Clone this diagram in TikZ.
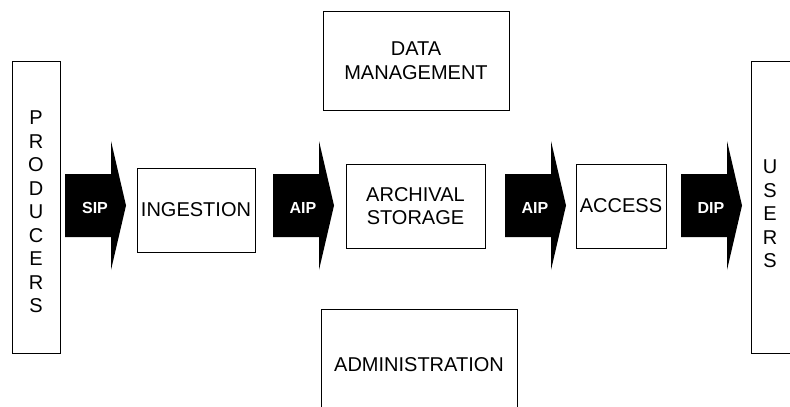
\documentclass[tikz,border=0pt]{standalone}
\usepackage{fontspec}
\setmainfont{Liberation Sans}
\usetikzlibrary{positioning}

\begin{document}
\begin{tikzpicture}[x=1pt,y=-1pt,font=\fontsize{20}{23.5}\selectfont]

\tikzstyle{box}=[draw,line width=0.8pt,align=center,inner sep=0pt]
\tikzstyle{lab}=[text=white,font=\fontsize{16}{18}\selectfont\bfseries]

 \useasboundingbox (0,0) rectangle (790,407);
 \clip (0,0) rectangle (790,407);

 \node[box,minimum width=48pt,minimum height=292pt] (prod) at (36,207) {};
 \node[align=center] (prodtxt) at (36,212) {P\\R\\O\\D\\U\\C\\E\\R\\S};
 \node[box,minimum width=118pt,minimum height=84pt] (ingest) at (196,210) {INGESTION};
 \node[box,minimum width=139pt,minimum height=84pt] (store) at (415.5,206) {ARCHIVAL\\STORAGE};
 \node[box,minimum width=90pt,minimum height=84pt] (access) at (621,206) {ACCESS};
 \node[box,minimum width=186pt,minimum height=99pt] (datamgmt) at (416,60.5) {DATA\\MANAGEMENT};
 \node[box,minimum width=196pt,minimum height=112pt] (admin) at (419,365) {ADMINISTRATION};
 \node[box,minimum width=48pt,minimum height=292pt] (users) at (775,207) {};
 \node[align=center] (userstxt) at (770,214) {U\\S\\E\\R\\S};

 % block arrows between the boxes
 \foreach \x/\t/\n in {65/SIP/sip,273/AIP/aipa,505/AIP/aipb,681/DIP/dip} {
   \fill (\x,174) -- (\x+46,174) -- (\x+46,141) -- (\x+61,205.5)
     -- (\x+46,270) -- (\x+46,237) -- (\x,237) -- cycle;
   \node[lab] (\n) at (\x+30,208) {\t};
 }
\end{tikzpicture}
\end{document}
